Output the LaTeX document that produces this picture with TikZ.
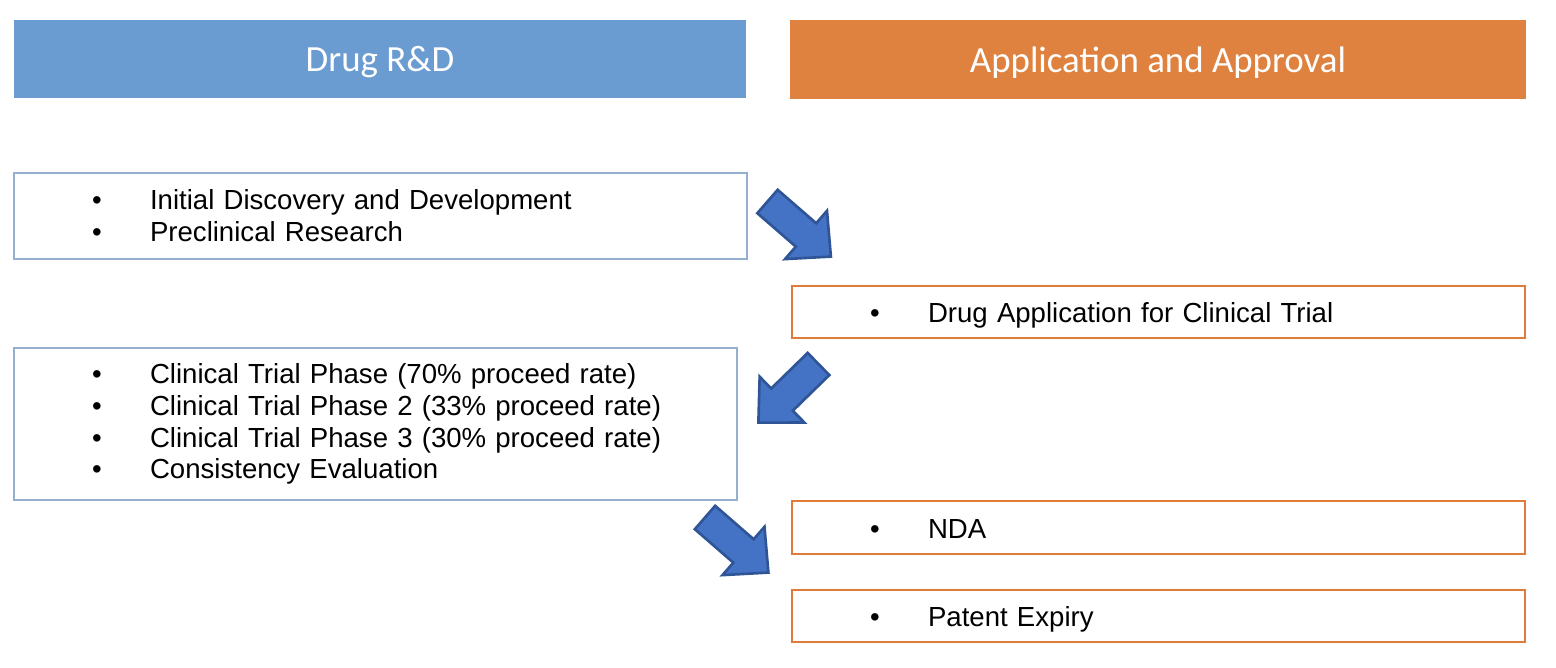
\documentclass[tikz,border=0pt]{standalone}
\usepackage{fontspec}
\setmainfont{Liberation Sans}
\newfontfamily\hdrfont{Carlito}
\usetikzlibrary{positioning}

\definecolor{hdrblue}{HTML}{6A9BD1}
\definecolor{hdrorange}{HTML}{E0823F}
\definecolor{lineblue}{HTML}{94AFCF}
\definecolor{lineorange}{HTML}{E07B39}
\definecolor{arrowfill}{HTML}{4472C4}
\definecolor{arrowline}{HTML}{2F5597}

% one bulleted line inside a stage box
\newcommand{\itm}[1]{\mbox{\makebox[1.16cm][l]{\textbullet}#1}}

\begin{document}
\begin{tikzpicture}[
  x=0.02cm, y=-0.02cm,
  every node/.style={align=center},
  header/.style={minimum height=1.57cm, inner sep=0pt, text=white,
    text height=0.52cm, text depth=0cm,
    font=\hdrfont\fontsize{21}{25}\selectfont},
  stagebox/.style={draw, line width=1.1pt, inner xsep=1.56cm, inner ysep=0pt,
    align=left, font=\fontsize{15.7}{18.14}\selectfont},
  oneline/.style={text height=0.44cm, text depth=0cm},
  blockarrow/.pic={
    \filldraw[fill=arrowfill, draw=arrowline, line width=1.5pt]
      (0,15.5) -- (51,15.5) -- (51,32) -- (84,0) -- (51,-32)
      -- (51,-15.5) -- (0,-15.5) -- cycle;
  }
]
\useasboundingbox (0,0) rectangle (1556,668);

% ── column headers ──────────────────────────────────────────────────
\node[header, fill=hdrblue, minimum width=14.64cm] (hdrRD) at (380,59) {Drug R\&D};
\node[header, fill=hdrorange, minimum width=14.72cm] (hdrAA) at (1158,59.5) {Application and Approval};

% ── drug R&D stages (left) ──────────────────────────────────────────
\node[stagebox, draw=lineblue, text width=11.54cm, minimum height=1.72cm]
  (discBox) at (380.5,216)
  {\itm{Initial Discovery and Development}\\
   \itm{Preclinical Research}};
\node[stagebox, draw=lineblue, text width=11.34cm, minimum height=3.04cm]
  (clinBox) at (375.5,424)
  {\itm{Clinical Trial Phase (70\% proceed rate)}\\
   \itm{Clinical Trial Phase 2 (33\% proceed rate)}\\
   \itm{Clinical Trial Phase 3 (30\% proceed rate)}\\
   \itm{Consistency Evaluation}};

% ── application and approval stages (right) ─────────────────────────
\node[stagebox, oneline, draw=lineorange, text width=11.54cm, minimum height=1.04cm]
  (ctaBox) at (1158.5,312) {\itm{Drug Application for Clinical Trial}};
\node[stagebox, oneline, draw=lineorange, text width=11.54cm, minimum height=1.06cm]
  (ndaBox) at (1158.5,527.5) {\itm{NDA}};
\node[stagebox, oneline, draw=lineorange, text width=11.54cm, minimum height=1.04cm]
  (patBox) at (1158.5,616) {\itm{Patent Expiry}};

% ── block arrows between the columns ────────────────────────────────
\pic[rotate=-41] at (767.5,201.5) {blockarrow};
\pic[rotate=-135.7] at (818.5,364) {blockarrow};
\pic[rotate=-41] at (705,517.5) {blockarrow};

\end{tikzpicture}
\end{document}
